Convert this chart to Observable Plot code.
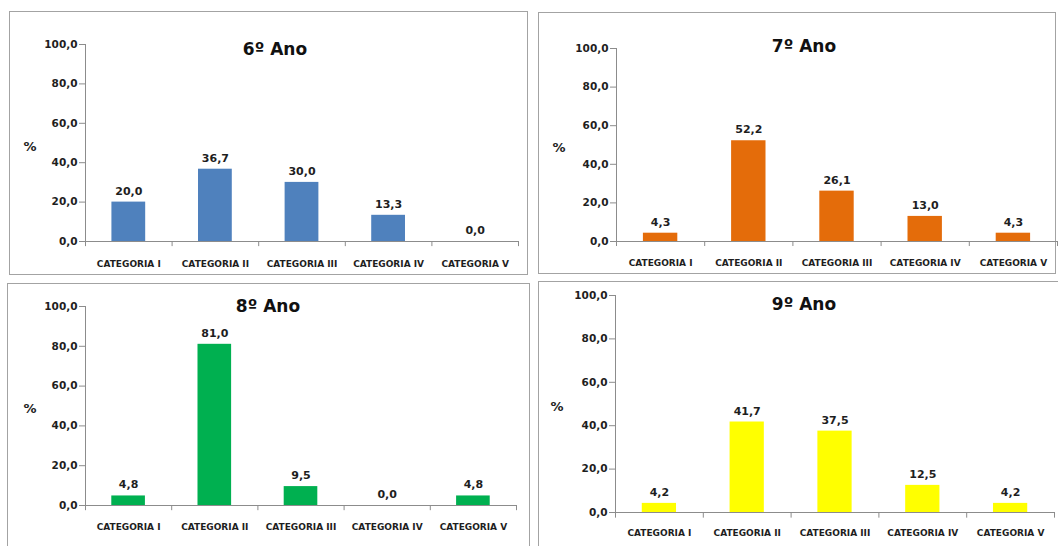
<!DOCTYPE html>
<html>
<head>
<meta charset="utf-8">
<script src="https://cdn.jsdelivr.net/npm/d3@7"></script>
<script src="https://cdn.jsdelivr.net/npm/@observablehq/plot@0.6"></script>
<style>
  body { margin: 0; background: #fff; }
  #root { position: relative; width: 1058px; height: 546px; overflow: hidden; background: #fff;
          font-family: "DejaVu Sans", sans-serif; }
  .panel { position: absolute; box-sizing: border-box; border: 1.5px solid #a3a3a3; background: #fff; }
  .chart { position: absolute; overflow: visible; }
  .chart g[aria-label="y-axis tick"] { stroke: #8c8c8c; }
  .title { position: absolute; font-weight: bold; font-size: 17px; color: #111;
           font-family: "DejaVu Sans", sans-serif;
           transform: translate(-50%, -50%); white-space: nowrap; }
  .pct { position: absolute; font-weight: bold; font-size: 13px; color: #222;
         font-family: "DejaVu Sans", sans-serif;
         transform: translate(-50%, -50%); }
</style>
</head>
<body>
<div id="root"></div>
<script>
// ---------- data ----------
const categories = ["CATEGORIA I", "CATEGORIA II", "CATEGORIA III", "CATEGORIA IV", "CATEGORIA V"];
const titles = ["6º Ano", "7º Ano", "8º Ano", "9º Ano"];
const values6 = [20.0, 36.7, 30.0, 13.3, 0.0];
const values7 = [4.3, 52.2, 26.1, 13.0, 4.3];
const values8 = [4.8, 81.0, 9.5, 0.0, 4.8];
const values9 = [4.2, 41.7, 37.5, 12.5, 4.2];
const barColors = ["#4F81BD", "#E46C0A", "#00B050", "#FFFF00"];
const yTicks = [0, 20, 40, 60, 80, 100];
const yLabel = "%";

// ---------- layout (page coordinates) ----------
const layouts = [
  {box: {l: 9,   t: 11,  r: 528,  b: 275}, ax: {x0: 85,  x1: 518,  y100: 44,  y0: 241}, title: {x: 275, y: 49},  pct: {x: 30,  y: 146}, catDy: 23},
  {box: {l: 538, t: 12,  r: 1056, b: 274}, ax: {x0: 616, x1: 1057, y100: 48,  y0: 241}, title: {x: 804, y: 46},  pct: {x: 559, y: 147}, catDy: 22},
  {box: {l: 7,   t: 283, r: 530,  b: 560}, ax: {x0: 85,  x1: 516,  y100: 306, y0: 505}, title: {x: 268, y: 306}, pct: {x: 30,  y: 408}, catDy: 22},
  {box: {l: 538, t: 281, r: 1070, b: 560}, ax: {x0: 615, x1: 1054, y100: 295, y0: 512}, title: {x: 804, y: 304}, pct: {x: 557, y: 406}, catDy: 21}
];
const seriesList = [values6, values7, values8, values9];

const fmt = v => v.toFixed(1).replace(".", ",");
const root = document.getElementById("root");
const axisGray = "#8c8c8c";
const textColor = "#1e1e1e";
const smallFont = "'DejaVu Sans', sans-serif";

seriesList.forEach((vals, k) => {
  const L = layouts[k];
  const data = categories.map((c, i) => ({cat: c, value: vals[i]}));

  const div = document.createElement("div");
  div.className = "panel";
  Object.assign(div.style, {left: L.box.l + "px", top: L.box.t + "px",
    width: (L.box.r - L.box.l) + "px", height: (L.box.b - L.box.t) + "px"});
  root.appendChild(div);

  const W = L.ax.x1 - L.box.l + 6;
  const H = L.ax.y0 - L.box.t + 40;
  const mL = L.ax.x0 - L.box.l;
  const mR = 6;
  const mT = L.ax.y100 - L.box.t;
  const mB = H - (L.ax.y0 - L.box.t);
  const step = (W - mL - mR) / categories.length;
  const inset = step * 0.305;

  const chart = Plot.plot({
    width: W, height: H,
    marginLeft: mL, marginRight: mR, marginTop: mT, marginBottom: mB,
    style: {fontFamily: smallFont, fontSize: "10.5px", fontWeight: "bold", color: textColor, background: "transparent", overflow: "visible"},
    x: {type: "band", domain: categories, padding: 0, round: false, axis: null},
    y: {domain: [0, 100], ticks: yTicks, tickFormat: fmt, tickSize: 6, tickPadding: 2, label: null},
    marks: [
      Plot.barY(data, {x: "cat", y: "value", fill: barColors[k], insetLeft: inset, insetRight: inset}),
      // y axis line
      Plot.ruleX([categories[0]], {x: d => d, dx: -step / 2, y1: 0, y2: 100, stroke: axisGray, strokeWidth: 1}),
      // x axis line
      Plot.ruleY([0], {stroke: axisGray, strokeWidth: 1}),
      // category boundary ticks
      Plot.ruleX(categories, {x: d => d, dx: -step / 2, y1: 0, y2: -2.6, stroke: axisGray}),
      Plot.ruleX([categories[categories.length - 1]], {x: d => d, dx: step / 2, y1: 0, y2: -2.6, stroke: axisGray}),
      // value labels
      Plot.text(data, {x: "cat", y: "value", text: d => fmt(d.value), dy: -11, fontSize: 11, fontWeight: "bold", fill: textColor}),
      // category labels
      Plot.text(categories, {x: d => d, y: 0, dy: L.catDy, fontSize: 9, fontWeight: "bold", fill: textColor})
    ]
  });
  chart.classList.add("chart");
  chart.style.left = L.box.l + "px";
  chart.style.top = L.box.t + "px";
  root.appendChild(chart);

  const t = document.createElement("div");
  t.className = "title";
  t.textContent = titles[k];
  t.style.left = L.title.x + "px";
  t.style.top = L.title.y + "px";
  root.appendChild(t);

  const p = document.createElement("div");
  p.className = "pct";
  p.textContent = yLabel;
  p.style.left = L.pct.x + "px";
  p.style.top = L.pct.y + "px";
  root.appendChild(p);
});
</script>
</body>
</html>
